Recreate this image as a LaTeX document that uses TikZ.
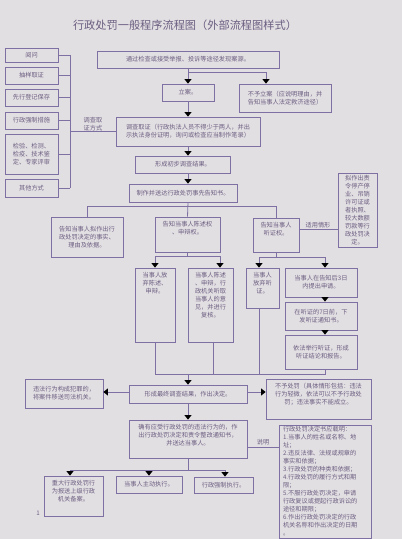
\documentclass[tikz,border=0pt]{standalone}
\usepackage{fontspec}
\setmainfont{Noto Sans CJK SC}
\usetikzlibrary{arrows.meta}
\definecolor{bgc}{HTML}{E2DFE3}
\definecolor{linec}{HTML}{7E70A3}
\definecolor{textc}{HTML}{6B5E80}
% text set from the top of a tall box: height, width, text
\newcommand\boxtop[3]{\parbox[c][#1][t]{#2}{\vspace*{3pt}\centering #3}}
\begin{document}
\begin{tikzpicture}[x=1pt, y=-1pt, line width=0.8pt,
	box/.style={draw=linec, text=textc, align=center, inner sep=1pt, font=\fontsize{6.2}{8}\selectfont},
	lbl/.style={text=textc, align=center, inner sep=0pt, font=\fontsize{6.2}{8}\selectfont},
	wire/.style={draw=linec},
	arr/.style={draw=linec, -{Triangle[width=7pt,length=4.5pt,black]}}]
	\fill[bgc] (0,0) rectangle (402,539);
	\useasboundingbox (0,0) rectangle (402,539);

	\node[text=textc, font=\fontsize{11.2}{13}\selectfont] (title) at (185,25) {行政处罚一般程序流程图（外部流程图样式）};

	% investigation methods
	\node[box, minimum width=53, minimum height=14] (L1) at (31.5,55) {阅问};
	\node[box, minimum width=53, minimum height=17] (L2) at (31.5,75.5) {抽样取证};
	\node[box, minimum width=53, minimum height=17] (L3) at (31.5,97.5) {先行登记保存};
	\node[box, minimum width=53, minimum height=17] (L4) at (31.5,120.5) {行政强制措施};
	\node[box, minimum width=53, minimum height=40] (L5) at (31.5,154) {检验、检测、\\检疫、技术鉴\\定、专家评审};
	\node[box, minimum width=53, minimum height=18] (L6) at (31.5,188) {其他方式};
	\coordinate (bus1) at (70,0);

	% main column
	\node[box, minimum width=182, minimum height=17] (src) at (188,59.5) {通过检查或接受举报、投诉等途径发现案源。};
	\node[box, minimum width=52, minimum height=17] (lian) at (188,92.5) {立案。};
	\node[box, minimum width=92, minimum height=28] (noLA) at (285,98) {不予立案（应说明理由，并\\告知当事人法定救济途径）};
	\node[box, minimum width=144, minimum height=29] (survey) at (188,131.5) {调查取证（行政执法人员不得少于两人，并出\\示执法身份证明，询问或检查应当制作笔录）};
	\node[box, minimum width=95, minimum height=17] (prelim) at (183,164.5) {形成初步调查结果。};
	\node[box, minimum width=108, minimum height=18] (notice) at (183,193) {制作并送达行政处罚事先告知书。};
	\node[box, minimum width=39, minimum height=74] (big) at (357.5,210) {拟作出责\\令停产停\\业、吊销\\许可证或\\者执照、\\较大数额\\罚款等行\\政处罚决\\定。};

	\node[box, minimum width=72, minimum height=40] (inf1) at (87,237) {告知当事人拟作出行\\政处罚决定的事实、\\理由及依据。};
	\node[box] (inf2) at (187.5,234.5) {\boxtop{33pt}{63pt}{告知当事人陈述权\\、申辩权。}};
	\node[box] (inf3) at (276,235) {\boxtop{32pt}{44pt}{告知当事人\\听证权。}};

	\node[box] (waive1) at (155,305) {\boxtop{72pt}{38pt}{当事人放\\弃陈述、\\申辩。}};
	\node[box] (state) at (210.5,305) {\boxtop{72pt}{43pt}{当事人陈述\\、申辩，行\\政机关听取\\当事人的意\\见，并进行\\复核。}};
	\node[box] (waive2) at (262.5,288) {\boxtop{38pt}{31pt}{当事人\\放弃听\\证。}};
	\node[box, minimum width=72, minimum height=29] (apply) at (321,282.5) {当事人在告知后3日\\内提出申请。};
	\node[box, minimum width=72, minimum height=28] (notify) at (321,316) {在听证的7日前，下\\发听证通知书。};
	\node[box, minimum width=72, minimum height=34] (hold) at (321,352) {依法举行听证，形成\\听证结论和报告。};
	\coordinate (bus3) at (0,374);

	\node[box, minimum width=118, minimum height=18] (final) at (188,394) {形成最终调查结果，作出决定。};
	\node[box, minimum width=78, minimum height=29] (crime) at (64,393.5) {违法行为构成犯罪的，\\将案件移送司法机关。};
	\node[box] (nopun) at (318.5,399) {\boxtop{38pt}{103pt}{不予处罚（具体情形包括：违法\\行为轻微，依法可以不予行政处\\罚；违法事实不能成立。}};
	\node[box] (decide) at (188,439) {\boxtop{36pt}{116pt}{确有应受行政处罚的违法行为的，作\\出行政处罚决定和责令整改通知书，\\并送达当事人。}};
	\node[box, minimum width=92, minimum height=113, text width=84, align=left] (doc) at (325,481.5) {行政处罚决定书应载明：\\1.当事人的姓名或名称、地\\址；\\2.违反法律、法规或规章的\\事实和依据；\\3.行政处罚的种类和依据；\\4.行政处罚的履行方式和期\\限；\\5.不服行政处罚决定，申请\\行政复议或提起行政诉讼的\\途径和期限；\\6.作出行政处罚决定的行政\\机关名称和作出决定的日期\\。};

	\node[box] (report) at (73.5,496) {\boxtop{38pt}{57pt}{重大行政处罚行\\为报送上级行政\\机关备案。}};
	\node[box, minimum width=66, minimum height=17] (self) at (149,484.5) {当事人主动执行。};
	\node[box, minimum width=59, minimum height=16] (force) at (223.5,485) {行政强制执行。};
	\node[lbl] (one) at (38,513) {1};

	% connectors
	\foreach \n in {L1,L2,L3,L4,L5,L6}
		\draw[wire] (\n.east) -- (\n.east -| bus1);
	\draw[wire] (L1.east -| bus1) -- (L6.east -| bus1);
	\draw[wire] (survey.west -| bus1) -- (survey.west);
	\node[lbl, anchor=south] (waylbl) at (93,131) {调查取\\证方式};

	\draw[arr] (src.south) -- (lian.north);
	\draw[arr] (src.south) -- ++(0,4) -| ([xshift=-19pt]noLA.north);
	\draw[arr] (lian.south) -- (survey.north);
	\draw[arr] (survey.south) -- (survey.south |- prelim.north);
	\draw[arr] (survey.south |- prelim.south) -- (survey.south |- notice.north);

	\draw[wire] (survey.south |- notice.south) -- (inf2.north);
	\draw[wire] (inf1.north) |- (inf3.north |- 0,206) -- (inf3.north);
	\draw[wire] ([yshift=6pt]inf3.east) -- ([yshift=6pt]inf3.east -| big.west);
	\node[lbl, anchor=south] (uselbl) at (318,228) {适用情形};

	\draw[wire] (inf2.south) -- ++(0,4) coordinate (b2);
	\draw[arr] (b2) -| (waive1.north);
	\draw[arr] (b2) -| ([xshift=9.5pt]state.north);
	\draw[wire] (inf3.south) -- ++(0,5) coordinate (b3);
	\draw[arr] (b3) -| ([xshift=-3.5pt]waive2.north);
	\draw[arr] (b3) -| ([xshift=4pt]apply.north);
	\draw[arr] ([xshift=4pt]apply.south) -- ([xshift=4pt]notify.north);
	\draw[arr] ([xshift=4pt]notify.south) -- ([xshift=4pt]hold.north);

	\draw[wire] (waive1.south) |- ([xshift=4pt]hold.south |- bus3) -- ([xshift=4pt]hold.south);
	\draw[wire] ([xshift=2.5pt]state.south) -- ([xshift=2.5pt]state.south |- bus3);
	\draw[wire] ([xshift=-3.5pt]waive2.south) -- ([xshift=-3.5pt]waive2.south |- bus3);
	\draw[arr] (final.north |- bus3) -- (final.north);

	\draw[arr] ([yshift=2pt]final.west) -- ([yshift=2pt]final.west -| crime.east);
	\draw[arr] ([yshift=2pt]final.east) -- ([yshift=2pt]final.east -| nopun.west);
	\draw[arr] (final.south) -- (decide.north);
	\draw[wire] ([yshift=-8pt]decide.east) -- ([yshift=-8pt]decide.east -| doc.west);
	\node[lbl, anchor=south] (notelbl) at (263,445) {说明};

	\draw[wire] (decide.south) -- ++(0,12) coordinate (b5);
	\draw[arr] (b5) -| ([xshift=-3.5pt]report.north);
	\draw[arr] (b5) -| (self.north);
	\draw[arr] (b5) -| ([xshift=1.5pt]force.north);
\end{tikzpicture}
\end{document}
